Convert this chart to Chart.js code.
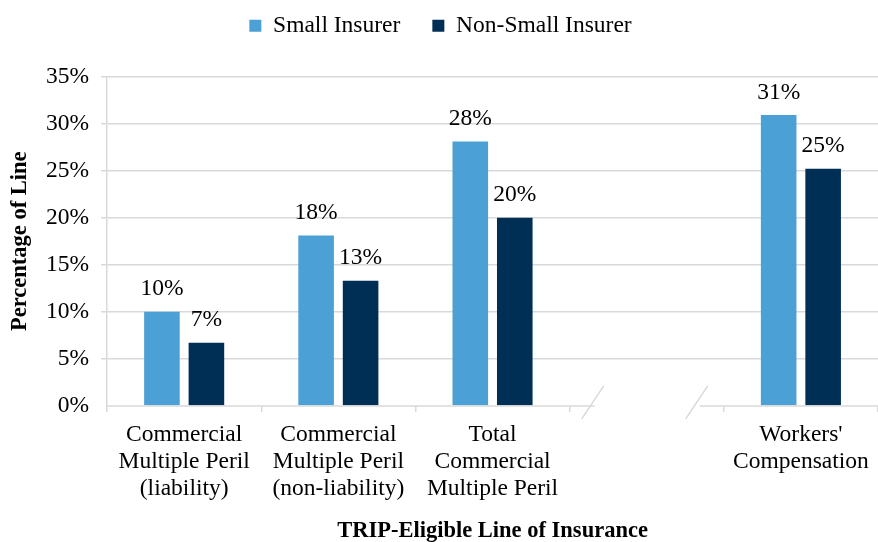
<!DOCTYPE html>
<html>
<head>
<meta charset="utf-8">
<script src="https://cdn.jsdelivr.net/npm/chart.js@4"></script>
<style>
  body { margin: 0; background: #fff; }
  canvas { display: block; }
</style>
</head>
<body>
<canvas id="lineChart" width="878" height="542"></canvas>
<script>
const categories = [
    ['Commercial', 'Multiple Peril', '(liability)'],
    ['Commercial', 'Multiple Peril', '(non-liability)'],
    ['Total', 'Commercial', 'Multiple Peril'],
    '',
    ["Workers'", 'Compensation']
];
const smallInsurer = [10.0, 18.1, 28.1, null, 30.9];
const nonSmallInsurer = [6.7, 13.3, 20.0, null, 25.2];
const yTicks = [0, 5, 10, 15, 20, 25, 30, 35];
const dataLabels = {
    small: ['10%', '18%', '28%', '', '31%'],
    nonSmall: ['7%', '13%', '20%', '', '25%']
};

const FONT = "'Liberation Serif', 'Times New Roman', serif";
const GRID = '#d9d9d9';
const SIZE = 23.5;

// value labels above the bars
const barLabels = {
    id: 'barLabels',
    afterDatasetsDraw(chart) {
        const ctx = chart.ctx;
        const texts = [dataLabels.small, dataLabels.nonSmall];
        ctx.save();
        ctx.font = SIZE + 'px ' + FONT;
        ctx.fillStyle = '#000';
        ctx.textAlign = 'center';
        ctx.textBaseline = 'bottom';
        chart.data.datasets.forEach((ds, i) => {
            chart.getDatasetMeta(i).data.forEach((bar, j) => {
                if (ds.data[j] == null) return;
                ctx.fillText(texts[i][j], bar.x, bar.y - 11);
            });
        });
        ctx.restore();
    }
};

// broken x axis line with slash marks around the empty slot
const brokenAxis = {
    id: 'brokenAxis',
    afterDraw(chart) {
        const x = chart.scales.x;
        const y0 = chart.scales.y.getPixelForValue(0);
        const mid = x.getPixelForValue(3);
        const a = mid - 54, b = mid + 50;
        const ctx = chart.ctx;
        ctx.save();
        ctx.strokeStyle = GRID;
        ctx.lineWidth = 1.5;
        ctx.beginPath();
        ctx.moveTo(chart.chartArea.left, y0);
        ctx.lineTo(a + 2, y0);
        ctx.moveTo(b + 3, y0);
        ctx.lineTo(chart.chartArea.right, y0);
        ctx.moveTo(a - 11, y0 + 13);
        ctx.lineTo(a + 11, y0 - 20);
        ctx.moveTo(b - 11, y0 + 13);
        ctx.lineTo(b + 11, y0 - 20);
        ctx.stroke();
        ctx.restore();
    }
};

// extra room under the legend
const legendSpace = {
    id: 'legendSpace',
    beforeInit(chart) {
        const fit = chart.legend.fit;
        chart.legend.fit = function () {
            fit.bind(chart.legend)();
            this.height += 29;
        };
    }
};

new Chart(document.getElementById('lineChart').getContext('2d'), {
    type: 'bar',
    data: {
        labels: categories,
        datasets: [{
            label: 'Small Insurer',
            data: smallInsurer,
            backgroundColor: '#4ba1d5',
            categoryPercentage: 0.577,
            barPercentage: 0.8
        }, {
            label: 'Non-Small Insurer',
            data: nonSmallInsurer,
            backgroundColor: '#002f55',
            categoryPercentage: 0.577,
            barPercentage: 0.8
        }]
    },
    options: {
        responsive: false,
        animation: false,
        layout: { padding: { top: -18, right: 0, left: 3, bottom: 0 } },
        plugins: {
            legend: {
                position: 'top',
                labels: {
                    font: { family: FONT, size: SIZE },
                    color: '#000',
                    boxWidth: 12,
                    boxHeight: 12,
                    padding: 32
                }
            },
            tooltip: { enabled: false }
        },
        scales: {
            x: {
                grid: {
                    drawOnChartArea: false,
                    color: GRID,
                    tickLength: 6,
                    lineWidth: 1.5
                },
                border: { display: false },
                ticks: {
                    font: { family: FONT, size: SIZE, lineHeight: 1.15 },
                    color: '#000',
                    maxRotation: 0,
                    autoSkip: false,
                    padding: 9
                },
                title: {
                    display: true,
                    text: 'TRIP-Eligible Line of Insurance',
                    font: { family: FONT, size: 22.5, weight: 'bold' },
                    color: '#000',
                    padding: { top: 7, bottom: -3 }
                }
            },
            y: {
                min: 0,
                max: 35,
                afterBuildTicks(scale) {
                    scale.ticks = yTicks.map(v => ({ value: v }));
                },
                grid: {
                    color: ctx => ctx.tick && ctx.tick.value === 0 ? 'rgba(0,0,0,0)' : GRID,
                    tickLength: 6,
                    lineWidth: 1.5
                },
                border: { display: true, color: GRID, width: 1.5 },
                ticks: {
                    font: { family: FONT, size: SIZE },
                    color: '#000',
                    padding: 12,
                    callback: v => v + '%'
                },
                title: {
                    display: true,
                    text: 'Percentage of Line',
                    font: { family: FONT, size: 22.5, weight: 'bold' },
                    color: '#000',
                    padding: { bottom: 0 }
                }
            }
        }
    },
    plugins: [barLabels, brokenAxis, legendSpace]
});
</script>
</body>
</html>
